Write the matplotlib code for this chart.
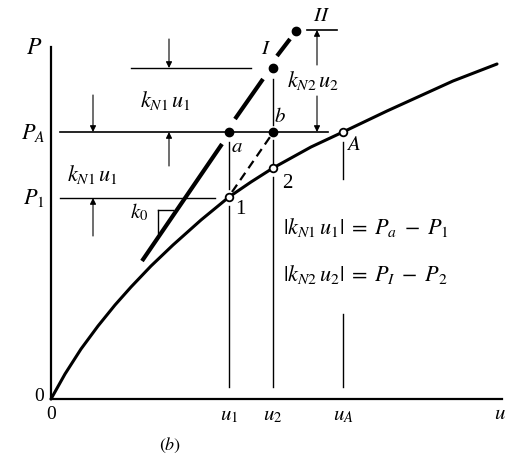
import matplotlib
matplotlib.use("Agg")
import matplotlib.pyplot as plt

plt.rcParams['mathtext.fontset'] = 'stix'
plt.rcParams['font.family'] = ['Liberation Serif', 'DejaVu Serif']

# ---- data (u, P) ----
curve_u = [0, 14, 30, 47, 64, 80, 100, 122, 150, 178, 200, 222, 260, 292, 336, 369, 402, 446]
curve_P = [0, 25, 50, 73, 94, 112, 133, 154, 179, 202, 217, 231, 252, 267, 288, 303, 318, 335]

u1, u2, uA = 178, 222, 292
P1, P2, PA, PI, PII = 202, 231, 267, 331, 368
uII = 245

filled_u = [u1, u2, u2, uII]          # a, b, I, II
filled_P = [PA, PA, PI, PII]
open_u = [u1, u2, uA]                 # 1, 2, A
open_P = [P1, P2, PA]

# thick k0-slope segments
k0_segments = [((91, 138), (171, 255)), ((184, 280), (212, 320)), ((226, 343), (239, 360))]

fig = plt.figure(figsize=(5.12, 4.56), dpi=100)
ax = fig.add_axes([0, 0, 1, 1])
ax.set_xlim(-51, 461)
ax.set_ylim(-56, 400)
ax.axis('off')

K = 'black'
# axes
ax.plot([0, 0], [0, 352], color=K, lw=1.6)
ax.plot([0, 451], [0, 0], color=K, lw=1.6)

# curve
ax.plot(curve_u, curve_P, color=K, lw=2.2, solid_capstyle='round',
        solid_joinstyle='round')

# horizontal reference lines
ax.plot([9, 277], [PA, PA], color=K, lw=1.2)
ax.plot([9, 164], [P1 - 1, P1 - 1], color=K, lw=1.0)
ax.plot([80, 200], [PI, PI], color=K, lw=1.0)
ax.plot([256, 286], [PII + 1, PII + 1], color=K, lw=1.2)

# vertical lines
for (u, segs) in [(u1, [(210, 257), (12, 193)]),
                  (u2, [(274, 320), (236, 259), (12, 222)]),
                  (uA, [(220, 257), (12, 85)])]:
    for lo, hi in segs:
        ax.plot([u, u], [lo, hi], color=K, lw=1.0)

# thick k0 segments
for (x0, y0), (x1, y1) in k0_segments:
    ax.plot([x0, x1], [y0, y1], color=K, lw=3.0, solid_capstyle='butt')

# slope triangle
ax.plot([107, 122], [189, 189], color=K, lw=1.0)
ax.plot([107, 107], [189, 166], color=K, lw=1.0)

# dashed line 1 -> b
ax.plot([u1 + 3, u2 - 3], [P1 + 5, PA - 5], color=K, lw=1.6, ls=(0, (4, 2.5)))

# markers
ax.plot(filled_u, filled_P, 'o', color=K, ms=6, zorder=5)
ax.plot(open_u, open_P, 'o', mfc='white', mec=K, mew=1.3, ms=5.5, zorder=5)

# arrows
def arr(x, y0, y1):
    ax.annotate('', xy=(x, y1), xytext=(x, y0),
                arrowprops=dict(arrowstyle='-|>', lw=0.8, color=K,
                                mutation_scale=9, shrinkA=0, shrinkB=0))

arr(118, 360, PI)
arr(42, 304, PA)
arr(118, 233, PA)
arr(42, 163, P1 - 1)
arr(266, 334, PII + 1)
arr(266, 303, PA)

fs = 15
# axis labels
ax.text(-9, 352, r'$P$', fontsize=fs + 2, ha='right', va='center')
ax.text(-6, PA, r'$P_A$', fontsize=fs + 1, ha='right', va='center')
ax.text(-6, P1, r'$P_1$', fontsize=fs + 1, ha='right', va='center')
ax.text(-7, 3, '0', fontsize=fs - 1, ha='right', va='center')
ax.text(0, -15, '0', fontsize=fs - 1, ha='center', va='center')
ax.text(u1, -16, r'$u_1$', fontsize=fs, ha='center', va='center')
ax.text(u2, -16, r'$u_2$', fontsize=fs, ha='center', va='center')
ax.text(uA, -16, r'$u_A$', fontsize=fs, ha='center', va='center')
ax.text(449, -15, r'$u$', fontsize=fs, ha='center', va='center')
ax.text(119, -45, r'$(b)$', fontsize=fs - 2, ha='center', va='center')

ax.text(114, 300, r'$k_{N1}\,u_1$', fontsize=fs + 1, ha='center', va='center')
ax.text(41, 225, r'$k_{N1}\,u_1$', fontsize=fs + 1, ha='center', va='center')
ax.text(262, 320, r'$k_{N2}\,u_2$', fontsize=fs + 1, ha='center', va='center')
ax.text(215, 350, r'$I$', fontsize=fs, ha='center', va='center')
ax.text(271, 384, r'$II$', fontsize=fs, ha='center', va='center')
ax.text(186, 252, r'$a$', fontsize=fs, ha='center', va='center')
ax.text(229, 283, r'$b$', fontsize=fs, ha='center', va='center')
ax.text(302, 254, r'$A$', fontsize=fs, ha='center', va='center')
ax.text(189, 190, '1', fontsize=fs, ha='center', va='center')
ax.text(236, 216, '2', fontsize=fs, ha='center', va='center')
ax.text(88, 188, r'$k_0$', fontsize=fs, ha='center', va='center')

ax.text(232, 172, r'$|k_{N1}\,u_1|\;=\;P_a\;-\;P_1$', fontsize=fs + 1, ha='left', va='center')
ax.text(232, 125, r'$|k_{N2}\,u_2|\;=\;P_I\;-\;P_2$', fontsize=fs + 1, ha='left', va='center')

fig.savefig('out.png', dpi=100)
